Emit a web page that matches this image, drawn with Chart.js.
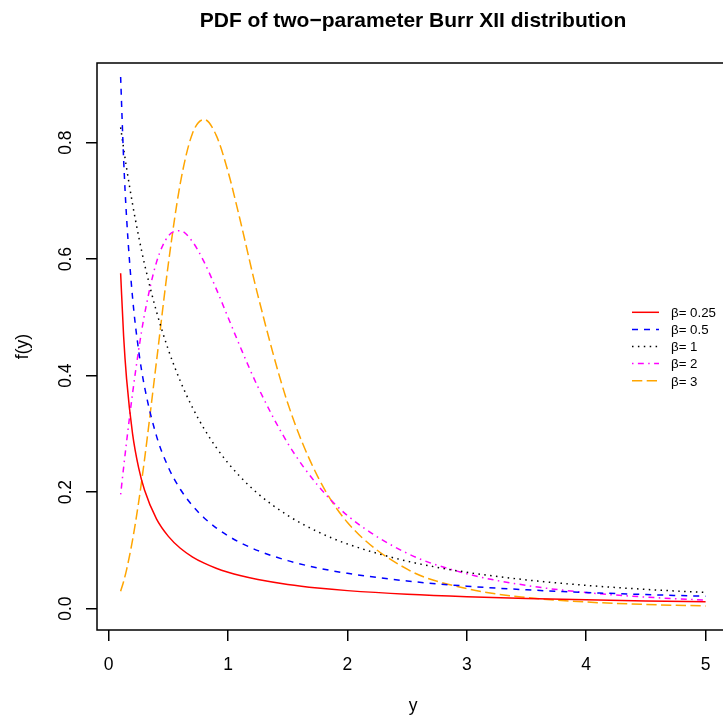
<!DOCTYPE html>
<html>
<head>
<meta charset="utf-8">
<script src="https://cdn.jsdelivr.net/npm/chart.js@4.4.1/dist/chart.umd.min.js"></script>
<style>
  html, body { margin: 0; padding: 0; background: #fff; overflow: hidden; width: 723px; height: 718px; }
  #wrap { width: 740px; height: 718px; }
  canvas { display: block; }
</style>
</head>
<body>
<div id="wrap"><canvas id="c" width="740" height="718" style="width:740px;height:718px"></canvas></div>
<script>
// ---- data ----
const chartTitle = "PDF of two\u2212parameter Burr XII distribution";
const xLabel = "y";
const yLabel = "f(y)";
const xTicks = [0, 1, 2, 3, 4, 5];
const yTicks = [0.0, 0.2, 0.4, 0.6, 0.8];
const seriesLabels = ["\u03b2= 0.25", "\u03b2= 0.5", "\u03b2= 1", "\u03b2= 2", "\u03b2= 3"];
const yValues = [0.1, 0.125, 0.15, 0.2, 0.25, 0.3, 0.4, 0.5, 0.6, 0.7, 0.8, 0.9, 1.0, 1.1, 1.25, 1.5, 1.75, 2.0, 2.5, 3.0, 3.5, 4.0, 4.5, 5.0];
const beta025 = [0.5760,0.4677,0.3941,0.3002,0.2426,0.2037,0.1542,0.1241,0.1037,0.0891,0.0781,0.0694,0.0625,0.0568,0.0500,0.0416,0.0355,0.0310,0.0247,0.0204,0.0174,0.0152,0.0134,0.0120];
const beta05  = [0.9127,0.7719,0.6708,0.5338,0.4444,0.3811,0.2967,0.2426,0.2050,0.1772,0.1558,0.1388,0.1250,0.1136,0.0997,0.0825,0.0700,0.0607,0.0475,0.0387,0.0324,0.0278,0.0242,0.0214];
const beta1   = [0.8264,0.7901,0.7561,0.6944,0.6400,0.5917,0.5102,0.4444,0.3906,0.3460,0.3086,0.2770,0.2500,0.2268,0.1975,0.1600,0.1322,0.1111,0.0816,0.0625,0.0494,0.0400,0.0331,0.0278];
const beta2   = [0.1961,0.2424,0.2869,0.3698,0.4429,0.5050,0.5945,0.6400,0.6488,0.6306,0.5949,0.5494,0.5000,0.4504,0.3807,0.2840,0.2121,0.1600,0.0951,0.0600,0.0399,0.0277,0.0199,0.0148];
const beta3   = [0.0299,0.0467,0.0671,0.1181,0.1818,0.2560,0.4240,0.5926,0.7304,0.8150,0.8398,0.8129,0.7500,0.6681,0.5375,0.3527,0.2272,0.1481,0.0678,0.0344,0.0191,0.0114,0.0072,0.0047];

// ---- styles ----
const allSeries = [beta025, beta05, beta1, beta2, beta3];
const colors = ["#FF0000", "#0000FF", "#000000", "#FF00FF", "#FFA500"];
const dashes = [[], [6, 6], [1.5, 4.4], [1.5, 4.4, 5.9, 4.4], [10.3, 4.4]];
const FONT = '"Liberation Sans", Arial, Helvetica, sans-serif';

const datasets = allSeries.map((vals, i) => ({
  label: seriesLabels[i],
  data: yValues.map((x, j) => ({ x: x, y: vals[j] })),
  borderColor: colors[i],
  backgroundColor: colors[i],
  borderWidth: 1.5,
  borderDash: dashes[i],
  pointRadius: 0,
  fill: false,
  cubicInterpolationMode: 'monotone',
  showLine: true
}));

const decor = {
  id: 'decor',
  afterDraw(chart) {
    const ctx = chart.ctx;
    const a = chart.chartArea;
    const xs = chart.scales.x, ys = chart.scales.y;
    ctx.save();
    // box
    ctx.strokeStyle = '#000';
    ctx.lineWidth = 1.5;
    ctx.setLineDash([]);
    ctx.strokeRect(a.left, a.top, a.right - a.left, a.bottom - a.top);
    ctx.fillStyle = '#000';
    // x tick labels
    ctx.font = '17.5px ' + FONT;
    ctx.textAlign = 'center';
    ctx.textBaseline = 'alphabetic';
    xs.ticks.forEach(t => {
      ctx.fillText(String(t.value), xs.getPixelForValue(t.value), 669.5);
    });
    // y tick labels (rotated)
    ys.ticks.forEach(t => {
      ctx.save();
      ctx.translate(70.7, ys.getPixelForValue(t.value));
      ctx.rotate(-Math.PI / 2);
      ctx.fillText(t.value.toFixed(1), 0, 0);
      ctx.restore();
    });
    // axis titles
    ctx.fillText(xLabel, (a.left + a.right) / 2, 711);
    ctx.save();
    ctx.translate(27.5, (a.top + a.bottom) / 2);
    ctx.rotate(-Math.PI / 2);
    ctx.fillText(yLabel, 0, 0);
    ctx.restore();
    // main title
    ctx.font = 'bold 21px ' + FONT;
    ctx.fillText(chartTitle, (a.left + a.right) / 2, 26.5);
    // legend
    ctx.font = '13.3px ' + FONT;
    ctx.textAlign = 'left';
    const cy = (a.top + a.bottom) / 2;
    const step = 17.1;
    seriesLabels.forEach((lab, i) => {
      const yy = cy + (i - 2) * step;
      ctx.strokeStyle = colors[i];
      ctx.lineWidth = 1.5;
      ctx.setLineDash(dashes[i]);
      ctx.beginPath();
      ctx.moveTo(632, yy);
      ctx.lineTo(659, yy);
      ctx.stroke();
      ctx.setLineDash([]);
      ctx.fillStyle = '#000';
      ctx.fillText(lab, 671, yy + 4.8);
    });
    ctx.restore();
  }
};

new Chart(document.getElementById('c'), {
  type: 'scatter',
  data: { datasets: datasets },
  options: {
    responsive: false,
    animation: false,
    events: [],
    layout: { padding: { top: 63, right: 11, left: 0, bottom: 0 } },
    plugins: { legend: { display: false }, title: { display: false }, tooltip: { enabled: false } },
    scales: {
      x: {
        type: 'linear',
        min: -0.098, max: 5.196,
        afterBuildTicks: s => { s.ticks = xTicks.map(v => ({ value: v })); },
        afterFit: s => { s.height = 88; },
        ticks: { display: false },
        border: { display: false },
        grid: { drawOnChartArea: false, drawTicks: true, tickLength: 11, color: '#000', lineWidth: 1.5 }
      },
      y: {
        type: 'linear',
        min: -0.0366, max: 0.9368,
        afterBuildTicks: s => { s.ticks = yTicks.map(v => ({ value: v })); },
        afterFit: s => { s.width = 97; },
        ticks: { display: false },
        border: { display: false },
        grid: { drawOnChartArea: false, drawTicks: true, tickLength: 11, color: '#000', lineWidth: 1.5 }
      }
    }
  },
  plugins: [decor]
});
</script>
</body>
</html>
